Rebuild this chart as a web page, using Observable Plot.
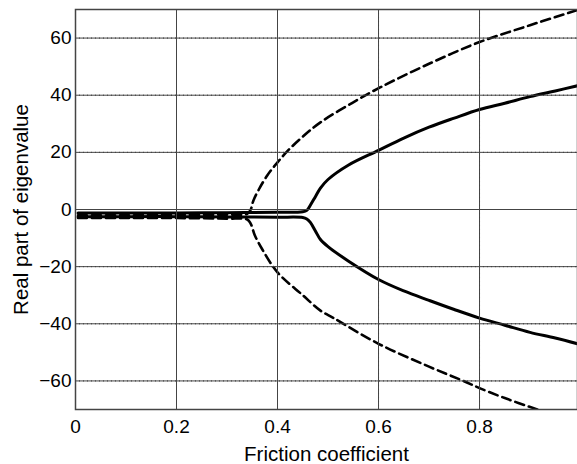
<!DOCTYPE html>
<html>
<head>
<meta charset="utf-8">
<script src="https://cdn.jsdelivr.net/npm/d3@7"></script>
<script src="https://cdn.jsdelivr.net/npm/@observablehq/plot@0.6"></script>
<style>
  body { margin: 0; background: #fff; }
  #chart svg { display: block; }
  #chart svg [aria-label="x-axis label"] text, #chart svg [aria-label="y-axis label"] text { font-size: 20.5px; }
</style>
</head>
<body>
<div id="chart"></div>
<script>
// Solid pair (bifurcation near 0.46)
const solidUpperX = [0.005, 0.1, 0.2, 0.3, 0.4, 0.45, 0.458, 0.465, 0.475, 0.485, 0.5, 0.54, 0.6, 0.65, 0.7, 0.75, 0.8, 0.85, 0.9, 0.95, 0.994];
const solidUpperY = [-1.2, -1.2, -1.2, -1.1, -1.0, -0.8, -0.3, 1.5, 4.5, 7.5, 10.5, 15.5, 20.7, 25, 28.8, 32, 35, 37.2, 39.5, 41.5, 43.3];
const solidLowerX = [0.005, 0.1, 0.2, 0.3, 0.4, 0.45, 0.458, 0.465, 0.475, 0.485, 0.5, 0.54, 0.6, 0.65, 0.7, 0.75, 0.8, 0.85, 0.9, 0.95, 0.994];
const solidLowerY = [-2.5, -2.5, -2.5, -2.6, -2.7, -2.8, -3.3, -4.5, -7.5, -10.5, -13, -18, -24.5, -28.5, -31.8, -35, -38, -40.5, -43, -45, -47];
// Dashed pair (bifurcation near 0.347)
const dashUpperX = [0.005, 0.1, 0.2, 0.3, 0.34, 0.347, 0.352, 0.363, 0.38, 0.4, 0.42, 0.45, 0.485, 0.55, 0.604, 0.7, 0.8, 0.9, 0.994];
const dashUpperY = [-2, -2, -1.9, -1.8, -1.5, 0, 3, 7, 12, 16.5, 20.5, 25.5, 30.5, 37.5, 42.8, 51, 58.6, 64.5, 69.8];
const dashLowerX = [0.005, 0.1, 0.2, 0.3, 0.34, 0.347, 0.355, 0.37, 0.4, 0.45, 0.485, 0.511, 0.6, 0.7, 0.768, 0.8, 0.85, 0.915, 0.95];
const dashLowerY = [-3, -3, -3, -3.2, -3.5, -5, -9, -14, -22, -30, -35.4, -38, -47, -55, -60, -62.5, -66, -70, -72];

const xTicks = [0, 0.2, 0.4, 0.6, 0.8];
const yTicks = [-60, -40, -20, 0, 20, 40, 60];
const xLabel = "Friction coefficient";
const yLabel = "Real part of eigenvalue";

const toPts = (xs, ys) => xs.map((x, i) => ({x, y: ys[i]}));
const solidSeries = [toPts(solidUpperX, solidUpperY), toPts(solidLowerX, solidLowerY)];
const dashSeries = [toPts(dashUpperX, dashUpperY), toPts(dashLowerX, dashLowerY)];

const FS = 19;
const chart = Plot.plot({
  width: 577,
  height: 464,
  marginTop: 9,
  marginLeft: 75,
  marginRight: 0,
  marginBottom: 55,
  style: {fontFamily: "'Liberation Sans', Arial, sans-serif", fontSize: FS + "px", color: "#000", background: "#fff"},
  x: {domain: [0, 0.994]},
  y: {domain: [-70, 70]},
  marks: [
    Plot.ruleX(xTicks.slice(1), {stroke: "#222", strokeWidth: 1, strokeDasharray: "1,3"}),
    Plot.ruleY(yTicks, {stroke: "#222", strokeWidth: 1, strokeDasharray: "1,3"}),
    ...dashSeries.map(d => Plot.line(d, {x: "x", y: "y", stroke: "#000", strokeWidth: 2.6, strokeDasharray: "9,5", curve: "catmull-rom", clip: true})),
    ...solidSeries.map(d => Plot.line(d, {x: "x", y: "y", stroke: "#000", strokeWidth: 3, curve: "catmull-rom", clip: true})),
    Plot.frame({stroke: "#444", strokeWidth: 1.5}),
    Plot.axisX(xTicks, {tickSize: 0, tickPadding: 10, fontSize: FS, label: xLabel, labelAnchor: "center", labelArrow: "none", labelOffset: 51, tickFormat: d => d === 0 ? "0" : String(d)}),
    Plot.axisY(yTicks, {tickSize: 0, tickPadding: 4, fontSize: FS, label: yLabel, labelAnchor: "center", labelArrow: "none", labelOffset: 62, tickFormat: d => d < 0 ? "\u2212" + Math.abs(d) : String(d)}),
    Plot.tickX(xTicks, {x: d => d, y1: -70, y2: -67.5, stroke: "#444"}),
    Plot.tickY(yTicks, {y: d => d, x1: 0, x2: 0.008, stroke: "#444"})
  ]
});
document.getElementById("chart").appendChild(chart);
</script>
</body>
</html>
